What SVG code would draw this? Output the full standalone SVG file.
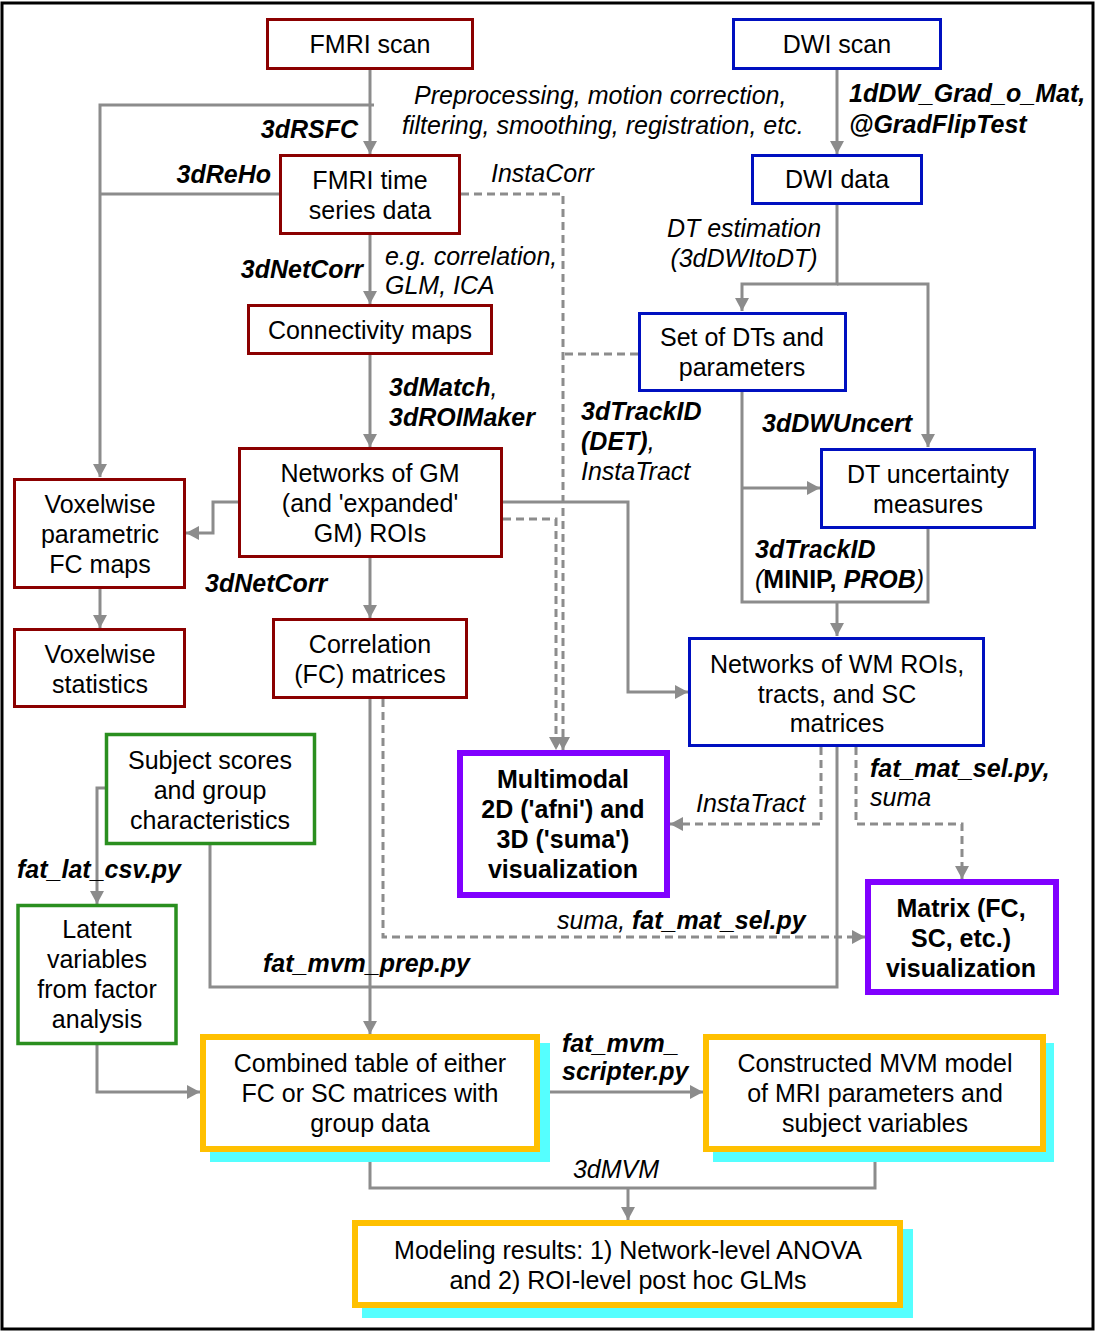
<svg xmlns="http://www.w3.org/2000/svg" width="1096" height="1333" viewBox="0 0 1096 1333">
<style>
text{font-family:"Liberation Sans",Arial,sans-serif;font-size:25px;fill:#000}
.c{text-anchor:middle}
.e{text-anchor:end}
.b{font-weight:bold}
.i{font-style:italic}
.bi{font-weight:bold;font-style:italic}
.red{fill:#fff;stroke:#8B0000;stroke-width:3}
.blue{fill:#fff;stroke:#0010C0;stroke-width:3}
.green{fill:#fff;stroke:#2A8F1F;stroke-width:3.5}
.purple{fill:#fff;stroke:#8000FF;stroke-width:6}
.gold{fill:#fff;stroke:#FFC000;stroke-width:6}
.shadow{fill:#55FFFF;stroke:none}
.ln{fill:none;stroke:#8C8C8C;stroke-width:3}
.ds{stroke-dasharray:8,5}
.ar{marker-end:url(#arr)}
</style>
<defs>
<marker id="arr" markerUnits="userSpaceOnUse" markerWidth="13" markerHeight="14" refX="13" refY="7" orient="auto">
<path d="M0,0 L13,7 L0,14 z" fill="#8C8C8C"/>
</marker>
</defs>
<rect x="0" y="0" width="1096" height="1333" fill="#fff"/>
<rect x="2" y="3" width="1091" height="1326" fill="none" stroke="#000" stroke-width="3"/>

<g id="connectors">
<path class="ln ar" d="M370,70 V154"/>
<path class="ln ar" d="M374,105 H100 V477"/>
<path class="ln" d="M279,194 H100"/>
<path class="ln ds ar" d="M461,194 H563 V750"/>
<path class="ln ar" d="M837,70 V154"/>
<path class="ln ar" d="M837,205 V284 H742 V311"/>
<path class="ln ar" d="M837,284 H928 V447"/>
<path class="ln ar" d="M370,235 V304"/>
<path class="ln ds" d="M638,354 H563"/>
<path class="ln ar" d="M370,355 V447"/>
<path class="ln" d="M742,392 V602 H928 V529"/>
<path class="ln ar" d="M837,602 V636"/>
<path class="ln ar" d="M742,488 H820"/>
<path class="ln ar" d="M238,502 H213 V533 H186"/>
<path class="ln ar" d="M503,502 H628 V692 H688"/>
<path class="ln ds ar" d="M503,519 H556 V750"/>
<path class="ln ar" d="M370,558 V618"/>
<path class="ln ar" d="M100,589 V628"/>
<path class="ln ar" d="M370,699 V1034"/>
<path class="ln ds ar" d="M383,699 V937 H865"/>
<path class="ln ds ar" d="M821,747 V824 H670"/>
<path class="ln" d="M837,747 V987 H210 V845"/>
<path class="ln ds ar" d="M856,747 V824 H962 V879"/>
<path class="ln ar" d="M105,788 H97 V904"/>
<path class="ln ar" d="M97,1045 V1092 H200"/>
<path class="ln ar" d="M540,1092 H703"/>
<path class="ln" d="M370,1152 V1188 H875 V1152"/>
<path class="ln ar" d="M628,1188 V1220"/>
</g>

<g id="labels">
<text x="414" y="104" class="i">Preprocessing, motion correction,</text>
<text x="402" y="134" class="i">filtering, smoothing, registration, etc.</text>
<text x="358" y="138" class="bi e">3dRSFC</text>
<text x="271" y="183" class="bi e">3dReHo</text>
<text x="491" y="182" class="i">InstaCorr</text>
<text x="363" y="278" class="bi e">3dNetCorr</text>
<text x="385" y="265" class="i">e.g. correlation,</text>
<text x="385" y="294" class="i">GLM, ICA</text>
<text x="849" y="102" class="bi">1dDW_Grad_o_Mat,</text>
<text x="849" y="133" class="bi">@GradFlipTest</text>
<text x="744" y="237" class="i c">DT estimation</text>
<text x="744" y="267" class="i c">(3dDWItoDT)</text>
<text x="389" y="396" class="i"><tspan class="bi">3dMatch</tspan>,</text>
<text x="389" y="426" class="bi">3dROIMaker</text>
<text x="581" y="420" class="bi">3dTrackID</text>
<text x="581" y="450" class="i"><tspan class="bi">(DET)</tspan>,</text>
<text x="581" y="480" class="i">InstaTract</text>
<text x="762" y="432" class="bi">3dDWUncert</text>
<text x="755" y="558" class="bi">3dTrackID</text>
<text x="755" y="588" class="i">(<tspan class="b" font-style="normal">MINIP,</tspan> <tspan class="bi">PROB</tspan>)</text>
<text x="205" y="592" class="bi">3dNetCorr</text>
<text x="696" y="812" class="i">InstaTract</text>
<text x="870" y="777" class="bi">fat_mat_sel.py,</text>
<text x="870" y="806" class="i">suma</text>
<text x="17" y="878" class="bi">fat_lat_csv.py</text>
<text x="557" y="929" class="i">suma, <tspan class="bi">fat_mat_sel.py</tspan></text>
<text x="263" y="972" class="bi">fat_mvm_prep.py</text>
<text x="562" y="1052" class="bi">fat_mvm_</text>
<text x="562" y="1080" class="bi">scripter.py</text>
<text x="616" y="1178" class="i c">3dMVM</text>
</g>

<g id="fmri_scan"><rect class="red" x="267.5" y="19.5" width="205" height="49"/><text x="370" y="53" class="c">FMRI scan</text></g>
<g id="dwi_scan"><rect class="blue" x="733.5" y="19.5" width="207" height="49"/><text x="837" y="53" class="c">DWI scan</text></g>
<g id="fmri_time"><rect class="red" x="280.5" y="155.5" width="179" height="78"/><text x="370" y="189" class="c">FMRI time</text><text x="370" y="219" class="c">series data</text></g>
<g id="dwi_data"><rect class="blue" x="752.5" y="155.5" width="169" height="48"/><text x="837" y="188" class="c">DWI data</text></g>
<g id="conn_maps"><rect class="red" x="248.5" y="305.5" width="243" height="48"/><text x="370" y="339" class="c">Connectivity maps</text></g>
<g id="set_dts"><rect class="blue" x="639.5" y="313.5" width="206" height="77"/><text x="742" y="346" class="c">Set of DTs and</text><text x="742" y="376" class="c">parameters</text></g>
<g id="net_gm"><rect class="red" x="239.5" y="448.5" width="262" height="108"/><text x="370" y="482" class="c">Networks of GM</text><text x="370" y="512" class="c">(and 'expanded'</text><text x="370" y="542" class="c">GM) ROIs</text></g>
<g id="dt_unc"><rect class="blue" x="821.5" y="449.5" width="213" height="78"/><text x="928" y="483" class="c">DT uncertainty</text><text x="928" y="513" class="c">measures</text></g>
<g id="vox_fc"><rect class="red" x="14.5" y="479.5" width="170" height="108"/><text x="100" y="513" class="c">Voxelwise</text><text x="100" y="543" class="c">parametric</text><text x="100" y="573" class="c">FC maps</text></g>
<g id="vox_stats"><rect class="red" x="14.5" y="629.5" width="170" height="77"/><text x="100" y="663" class="c">Voxelwise</text><text x="100" y="693" class="c">statistics</text></g>
<g id="corr_mat"><rect class="red" x="273.5" y="619.5" width="193" height="78"/><text x="370" y="653" class="c">Correlation</text><text x="370" y="683" class="c">(FC) matrices</text></g>
<g id="net_wm"><rect class="blue" x="689.5" y="638.5" width="294" height="107"/><text x="837" y="673" class="c">Networks of WM ROIs,</text><text x="837" y="703" class="c">tracts, and SC</text><text x="837" y="732" class="c">matrices</text></g>
<g id="multimodal"><rect class="purple" x="460" y="753" width="207" height="142"/><text x="563" y="788" class="c b">Multimodal</text><text x="563" y="818" class="c b">2D ('afni') and</text><text x="563" y="848" class="c b">3D ('suma')</text><text x="563" y="878" class="c b">visualization</text></g>
<g id="matrix_viz"><rect class="purple" x="868" y="882" width="188" height="110"/><text x="961" y="917" class="c b">Matrix (FC,</text><text x="961" y="947" class="c b">SC, etc.)</text><text x="961" y="977" class="c b">visualization</text></g>
<g id="subject"><rect class="green" x="106.5" y="734.5" width="208" height="109"/><text x="210" y="769" class="c">Subject scores</text><text x="210" y="799" class="c">and group</text><text x="210" y="829" class="c">characteristics</text></g>
<g id="latent"><rect class="green" x="18" y="905.5" width="158" height="138"/><text x="97" y="938" class="c">Latent</text><text x="97" y="968" class="c">variables</text><text x="97" y="998" class="c">from factor</text><text x="97" y="1028" class="c">analysis</text></g>
<g id="combined"><rect class="shadow" x="210" y="1043" width="340" height="119"/><rect class="gold" x="203" y="1037" width="334" height="112"/><text x="370" y="1072" class="c">Combined table of either</text><text x="370" y="1102" class="c">FC or SC matrices with</text><text x="370" y="1132" class="c">group data</text></g>
<g id="constructed"><rect class="shadow" x="713" y="1043" width="341" height="119"/><rect class="gold" x="706" y="1037" width="337" height="112"/><text x="875" y="1072" class="c">Constructed MVM model</text><text x="875" y="1102" class="c">of MRI parameters and</text><text x="875" y="1132" class="c">subject variables</text></g>
<g id="modeling"><rect class="shadow" x="362" y="1229" width="551" height="89"/><rect class="gold" x="355" y="1223" width="545" height="82"/><text x="628" y="1259" class="c">Modeling results: 1) Network-level ANOVA</text><text x="628" y="1289" class="c">and 2) ROI-level post hoc GLMs</text></g>
</svg>
